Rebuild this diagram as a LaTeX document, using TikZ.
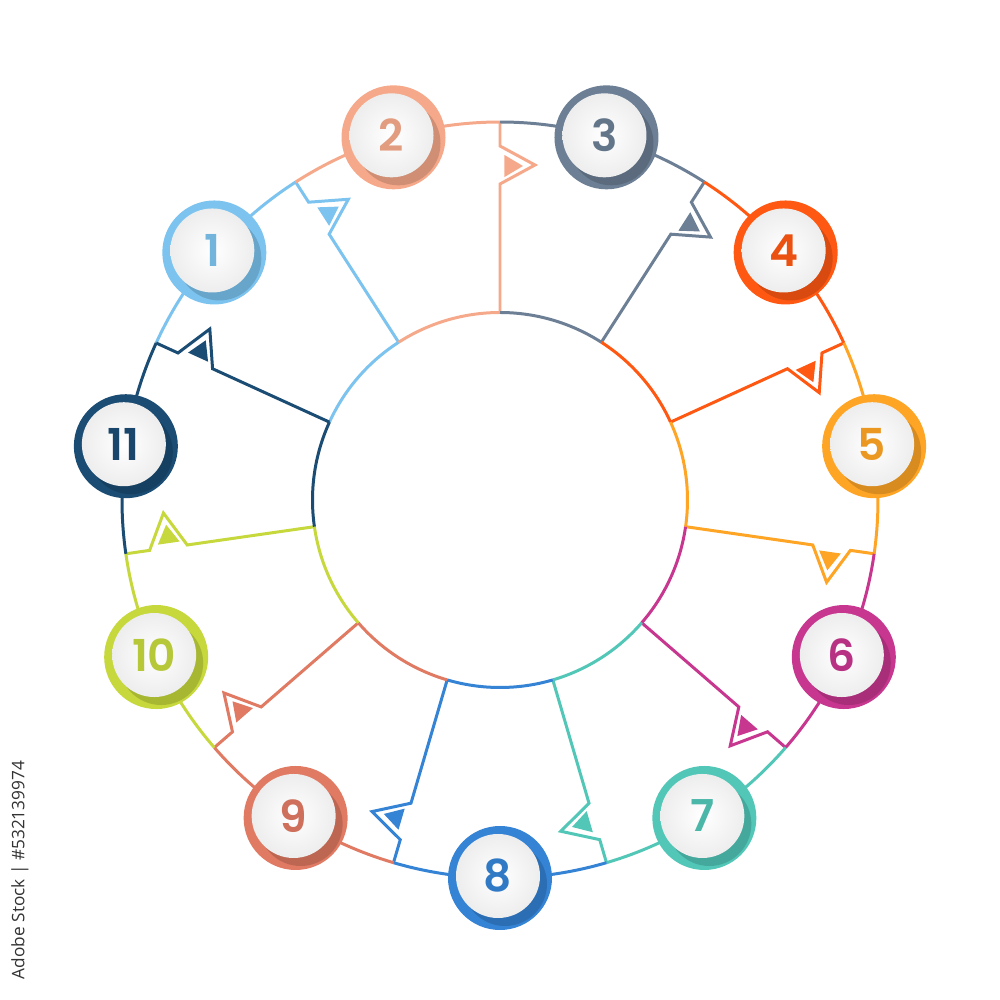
\documentclass[tikz,border=0pt]{standalone}
\usepackage{fontspec}
\newfontfamily\numfont{Poppins SemiBold}
\newfontfamily\wmfont{Open Sans}
\definecolor{c1}{HTML}{7CC4EF}
\definecolor{c2}{HTML}{F6A98A}
\definecolor{c3}{HTML}{6C7F95}
\definecolor{c4}{HTML}{FF5812}
\definecolor{c5}{HTML}{FFA526}
\definecolor{c6}{HTML}{C8378F}
\definecolor{c7}{HTML}{52C7B8}
\definecolor{c8}{HTML}{3483D5}
\definecolor{c9}{HTML}{E07A63}
\definecolor{c10}{HTML}{C6D83C}
\definecolor{c11}{HTML}{1B4C73}
\tikzset{
  segline/.style={line width=0.85pt, line join=miter},
  numtext/.style={font=\numfont\fontsize{12.5}{12.5}\selectfont},
}
\begin{document}
\begin{tikzpicture}[x=0.01cm,y=0.01cm]
\useasboundingbox (-500,-500) rectangle (500,500);
\fill[white] (-500,-500) rectangle (500,500);
% sectors
\foreach \k in {1,...,11}{
  \pgfmathsetmacro\ang{139.0909-(\k-1)*32.72727}
  \pgfmathsetmacro\aa{\ang-16.36364}
  \pgfmathsetmacro\bb{\ang+16.36364}
  \draw[segline, c\k] (\aa:187.5) arc[start angle=\aa, end angle=\bb, radius=187.5];
  \draw[segline, c\k] (\aa:378) arc[start angle=\aa, end angle=\bb, radius=378];
  \begin{scope}[rotate=\aa]
    \draw[segline, c\k] (187.5,0) -- (316,0) -- (335,-35) -- (354,0) -- (378,0);
    \fill[c\k] (323,-4.5) -- (334,-23) -- (345,-4.5) -- cycle;
  \end{scope}
}
% badges
\foreach \k in {1,...,11}{
  \pgfmathsetmacro\ang{139.0909-(\k-1)*32.72727}
  \begin{scope}[shift={(\ang:378)}]
    \fill[c\k] (0,0) circle[radius=52];
    \fill[c\k!72!black, opacity=0.55] (5,-6) circle[radius=42];
    \shade[inner color=white, outer color=black!7] (-2,2) circle[radius=42];
    \node[numtext, text=c\k!92!black] (b\k) at (-2,2) {\k};
  \end{scope}
}
\node[font=\wmfont\fontsize{4.9}{4.9}\selectfont, text=black!80, rotate=90] (wm) at (-480,-370) {Adobe Stock | \#532139974};
\end{tikzpicture}
\end{document}
